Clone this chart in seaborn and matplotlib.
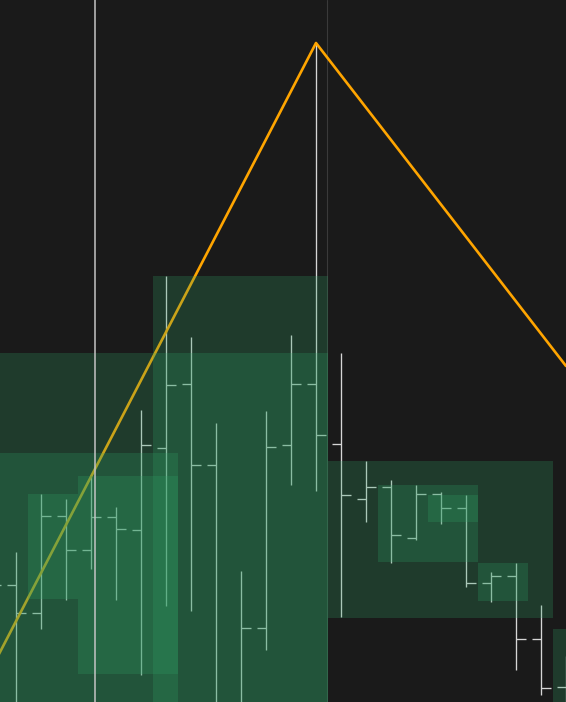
import numpy as np
import pandas as pd
import matplotlib
matplotlib.use('Agg')
import matplotlib.pyplot as plt
import seaborn as sns

# OHLC bars (index, open, high, low, close)
bar_idx = list(range(-1, 23))
bar_open = [112.0, 111.7, 108.9, 118.6, 115.2, 118.5, 117.2, 125.4, 131.8, 123.7, 98.8, 107.4,
            125.7, 131.8, 125.8, 120.3, 121.5, 116.4, 120.8, 119.4, 111.9, 112.6, 106.3, 101.5]
bar_high = [115.0, 115.0, 120.8, 120.3, 122.7, 119.5, 129.2, 142.6, 136.5, 127.9, 113.1, 129.1,
            136.7, 165.9, 134.9, 124.1, 122.2, 121.7, 121.0, 120.7, 113.0, 113.9, 109.7, 104.6]
bar_low = [108.0, 98.0, 107.3, 110.2, 113.3, 110.2, 102.7, 109.6, 109.1, 96.5, 96.0, 105.2,
           121.7, 121.1, 108.5, 118.0, 113.9, 116.2, 117.8, 111.5, 110.0, 103.2, 100.7, 97.0]
bar_close = [111.7, 108.9, 118.6, 115.2, 118.5, 117.3, 125.7, 131.7, 123.7, 98.8, 107.4, 125.5,
             131.8, 126.7, 120.7, 121.5, 116.7, 120.8, 119.4, 111.9, 112.6, 106.3, 101.4, 99.0]

# zones: first bar, last bar, top, bottom
zone_first = [-3, 6, -3, 1, 3, 13, 15, 17, 19, 22]
zone_last = [12, 12, 6, 2, 6, 21, 18, 18, 20, 24]
zone_top = [134.9, 142.6, 124.9, 120.8, 122.6, 124.1, 121.7, 120.7, 113.9, 107.3]
zone_bottom = [94.0, 94.0, 94.0, 110.3, 102.8, 108.4, 114.0, 118.0, 110.1, 94.0]

# zigzag pivots
zz_idx = [-4, 12, 22]
zz_val = [88.8, 165.9, 133.6]

# vertical markers
mark_light = 3.16
mark_dark = 12.45

sns.set_theme(style='dark')
bg = '#1a1a1a'

fig = plt.figure(figsize=(5.66, 7.02), dpi=100, facecolor=bg)
ax = fig.add_axes([0, 0, 1, 1])
ax.set_facecolor(bg)

ohlc = pd.DataFrame({'i': bar_idx, 'o': bar_open, 'h': bar_high, 'l': bar_low, 'c': bar_close})
bar_col = '#d6d6d6'
ax.vlines(ohlc['i'], ohlc['l'], ohlc['h'], color=bar_col, lw=0.95, zorder=1)
ax.hlines(ohlc['o'], ohlc['i'] - 0.38, ohlc['i'], color=bar_col, lw=0.95, zorder=1)
ax.hlines(ohlc['c'], ohlc['i'], ohlc['i'] + 0.38, color=bar_col, lw=0.95, zorder=1)

ax.axvline(mark_dark, color='#3a3a3a', lw=0.8, zorder=0.5)

zz = pd.DataFrame({'i': zz_idx, 'v': zz_val})
sns.lineplot(data=zz, x='i', y='v', ax=ax, color='#ffa500', lw=1.9, zorder=2)

# zones span half a bar either side
for a, b, t, btm in zip(zone_first, zone_last, zone_top, zone_bottom):
    ax.add_patch(plt.Rectangle((a - 0.53, btm), b - a + 1, t - btm,
                               facecolor='#2ea064', alpha=0.25, lw=0, zorder=3))

ax.axvline(mark_light, color='#c4c4c4', lw=1.1, zorder=4)

ax.set_xlim(-0.64, 22.0)
ax.set_ylim(100.0, 170.2)
ax.set_axis_off()

fig.savefig('out.png', dpi=100, facecolor=bg)
